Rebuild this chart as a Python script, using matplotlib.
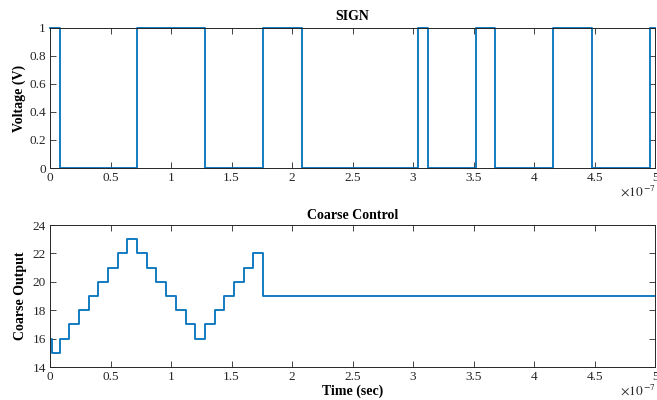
import numpy as np
import matplotlib
matplotlib.use('Agg')
import matplotlib.pyplot as plt

plt.rcParams['font.family'] = ['Liberation Serif', 'DejaVu Serif']
plt.rcParams['mathtext.fontset'] = 'stix'

# time in units of 1e-7 s
sign_t = [0, 0.08, 0.72, 1.28, 1.76, 2.08, 3.04, 3.12, 3.52, 3.68, 4.16, 4.48, 4.96, 5.0]
sign_v = [1, 0, 1, 0, 1, 0, 1, 0, 1, 0, 1, 0, 1, 1]

coarse_t = [0, 0.02, 0.08, 0.16, 0.24, 0.32, 0.40, 0.48, 0.56, 0.64, 0.72, 0.80,
            0.88, 0.96, 1.04, 1.12, 1.20, 1.28, 1.36, 1.44, 1.52, 1.60, 1.68, 1.76, 5.0]
coarse_v = [16, 15, 16, 17, 18, 19, 20, 21, 22, 23, 22, 21,
            20, 19, 18, 17, 16, 17, 18, 19, 20, 21, 22, 19, 19]

xticks = [0, 0.5, 1, 1.5, 2, 2.5, 3, 3.5, 4, 4.5, 5]
xticklabels = ['0', '0.5', '1', '1.5', '2', '2.5', '3', '3.5', '4', '4.5', '5']

blue = '#0072BD'

fig = plt.figure(figsize=(6.57, 4.0), dpi=100)
ax1 = fig.add_axes([0.0761, 0.58, 0.921, 0.35])
ax2 = fig.add_axes([0.0761, 0.0825, 0.921, 0.355])


def style_axes(ax):
    ax.set_xlim(0, 5)
    ax.set_xticks(xticks)
    ax.set_xticklabels(xticklabels)
    ax.tick_params(direction='in', top=True, right=True, labelsize=9.5,
                   length=4, width=0.6, colors='#262626', pad=3)
    for sp in ax.spines.values():
        sp.set_linewidth(0.7)
        sp.set_color('#262626')
    # exponent label, bottom right
    ax.text(1.0, -0.165, r'$\times 10^{\,\mathrm{-7}}$', transform=ax.transAxes,
            ha='right', va='center', fontsize=9.5, color='#262626')


ax1.step(sign_t, sign_v, where='post', color=blue, lw=1.3, clip_on=False)
ax1.set_ylim(0, 1)
ax1.set_yticks([0, 0.2, 0.4, 0.6, 0.8, 1])
ax1.set_yticklabels(['0', '0.2', '0.4', '0.6', '0.8', '1'])
style_axes(ax1)
ax1.set_title('SIGN', fontsize=10, fontweight='bold', pad=6)
ax1.set_ylabel('Voltage (V)', fontsize=10, fontweight='bold', labelpad=2)

ax2.step(coarse_t, coarse_v, where='post', color=blue, lw=1.3)
ax2.set_ylim(14, 24)
ax2.set_yticks([14, 16, 18, 20, 22, 24])
style_axes(ax2)
ax2.set_title('Coarse Control', fontsize=10, fontweight='bold', pad=4)
ax2.set_ylabel('Coarse Output', fontsize=10, fontweight='bold', labelpad=4)
ax2.set_xlabel('Time (sec)', fontsize=10, fontweight='bold', labelpad=1)

fig.savefig('out.png', dpi=100)
